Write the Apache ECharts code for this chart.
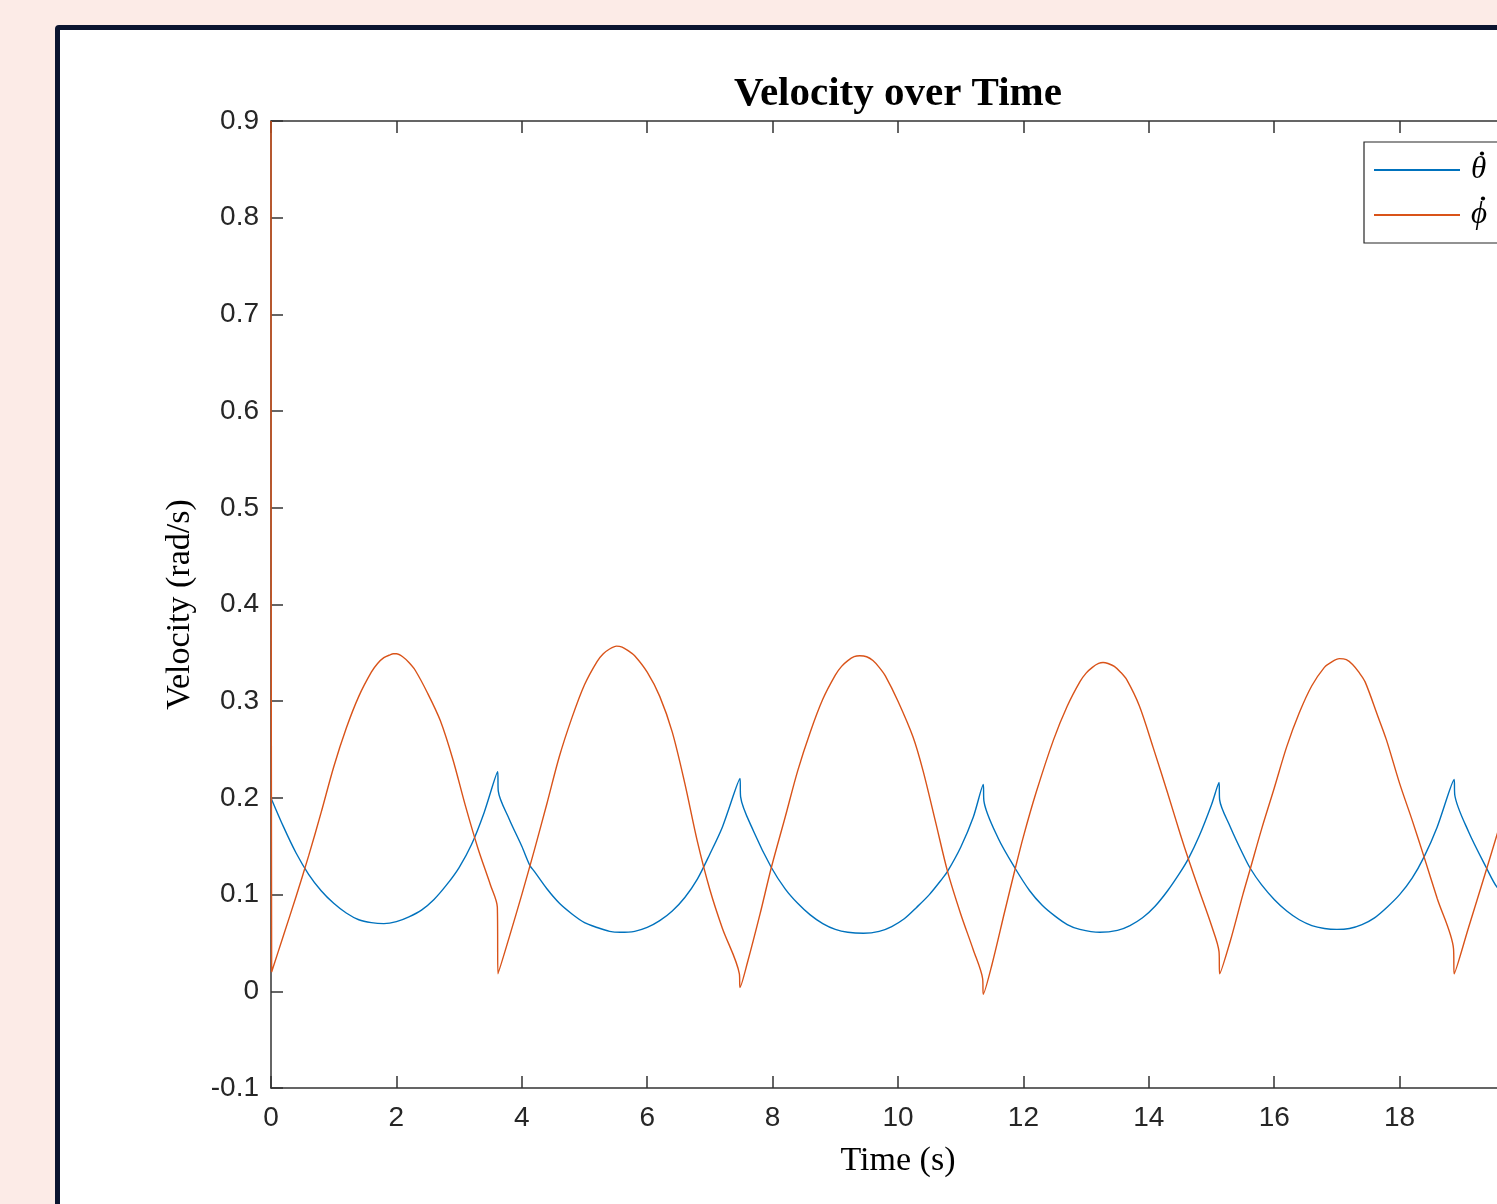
<!DOCTYPE html>
<html>
<head>
<meta charset="utf-8">
<script src="https://cdn.jsdelivr.net/npm/echarts@6/dist/echarts.min.js"></script>
<style>
  html, body { margin: 0; padding: 0; width: 1497px; height: 1204px; overflow: hidden; background: #fcebe7; }
  #frame { position: absolute; left: 55px; top: 25px; width: 1700px; height: 1400px; border: 5px solid #0b1530; border-radius: 4px; background: #ffffff; box-sizing: border-box; }
  #chart { position: absolute; left: 0; top: 0; width: 1700px; height: 1204px; }
</style>
</head>
<body>
<div id="frame"></div>
<div id="chart"></div>
<script>
// ---- data ----
const seriesNames = ['\u03B8', '\u03D5'];   // drawn with a dot above (time derivatives)

const thetaTime = [
  0, 0.2, 0.4, 0.6, 0.8, 1.0, 1.2, 1.4, 1.6, 1.8, 2.0, 2.2, 2.4, 2.6, 2.8, 3.0, 3.2, 3.4, 3.615, 3.625,
  3.8, 4.0, 4.13, 4.2, 4.4, 4.6, 4.8, 5.0, 5.2, 5.4, 5.57, 5.8, 6.0, 6.2, 6.4, 6.6, 6.8, 7.0, 7.2, 7.48, 7.49,
  7.7, 7.98, 8.2, 8.4, 8.6, 8.8, 9.0, 9.2, 9.45, 9.7, 9.9, 10.1, 10.3, 10.5, 10.7, 10.79, 11.0, 11.2, 11.36, 11.37,
  11.6, 11.87, 12.1, 12.3, 12.5, 12.7, 12.9, 13.22, 13.5, 13.7, 13.9, 14.1, 14.3, 14.5, 14.63, 14.8, 15.0, 15.12, 15.13,
  15.3, 15.5, 15.62, 15.8, 16.0, 16.2, 16.4, 16.6, 16.8, 17.0, 17.2, 17.4, 17.6, 17.8, 18.0, 18.2, 18.39, 18.6, 18.87, 18.88,
  19.1, 19.39, 19.55, 19.8, 20.0
];
const thetaDot = [
  0.200, 0.170, 0.143, 0.121, 0.104, 0.091, 0.081, 0.074, 0.071, 0.070, 0.072, 0.077, 0.084, 0.095, 0.110, 0.128, 0.152, 0.185, 0.227, 0.207,
  0.178, 0.150, 0.130, 0.124, 0.106, 0.091, 0.080, 0.071, 0.066, 0.062, 0.061, 0.062, 0.066, 0.073, 0.083, 0.097, 0.116, 0.142, 0.170, 0.220, 0.201,
  0.165, 0.128, 0.106, 0.091, 0.079, 0.070, 0.064, 0.061, 0.060, 0.062, 0.067, 0.075, 0.087, 0.100, 0.116, 0.124, 0.149, 0.180, 0.214, 0.197,
  0.158, 0.127, 0.104, 0.089, 0.078, 0.069, 0.064, 0.061, 0.063, 0.068, 0.076, 0.088, 0.104, 0.123, 0.137, 0.160, 0.193, 0.216, 0.198,
  0.170, 0.142, 0.127, 0.110, 0.095, 0.083, 0.074, 0.068, 0.065, 0.064, 0.065, 0.069, 0.076, 0.087, 0.100, 0.117, 0.139, 0.170, 0.219, 0.203,
  0.165, 0.127, 0.108, 0.090, 0.080
];

const phiTime = [
  0, 0.01, 0.2, 0.4, 0.6, 0.8, 1.0, 1.2, 1.4, 1.6, 1.7, 1.8, 1.9, 1.95, 2.0, 2.1, 2.2, 2.3, 2.5, 2.7, 2.9, 3.1, 3.3, 3.5, 3.61, 3.62,
  3.8, 4.0, 4.2, 4.4, 4.6, 4.8, 5.0, 5.2, 5.3, 5.4, 5.51, 5.6, 5.7, 5.8, 6.0, 6.2, 6.4, 6.6, 6.8, 7.0, 7.2, 7.47, 7.48,
  7.6, 7.8, 7.98, 8.2, 8.4, 8.6, 8.8, 9.0, 9.1, 9.2, 9.3, 9.39, 9.5, 9.6, 9.7, 9.8, 10.0, 10.24, 10.4, 10.6, 10.79, 11.0, 11.2, 11.35, 11.36,
  11.5, 11.7, 11.87, 12.0, 12.2, 12.48, 12.7, 12.9, 13.0, 13.1, 13.2, 13.27, 13.35, 13.45, 13.55, 13.65, 13.85, 14.07, 14.3, 14.5, 14.63, 14.8, 15.0, 15.12, 15.13,
  15.3, 15.5, 15.62, 15.8, 16.0, 16.2, 16.4, 16.6, 16.8, 16.9, 17.04, 17.15, 17.25, 17.35, 17.45, 17.65, 17.79, 18.0, 18.2, 18.39, 18.6, 18.86, 18.87,
  19.1, 19.39, 19.6, 19.8, 20.0
];
const phiDot = [
  0.900, 0.020, 0.058, 0.098, 0.140, 0.185, 0.232, 0.272, 0.305, 0.330, 0.339, 0.345, 0.348, 0.349, 0.349, 0.346, 0.340, 0.332, 0.308, 0.280, 0.240, 0.192, 0.148, 0.110, 0.087, 0.018,
  0.056, 0.100, 0.146, 0.194, 0.243, 0.283, 0.317, 0.341, 0.349, 0.354, 0.357, 0.356, 0.352, 0.347, 0.330, 0.305, 0.268, 0.215, 0.155, 0.105, 0.065, 0.018, 0.004,
  0.030, 0.080, 0.128, 0.180, 0.228, 0.268, 0.302, 0.327, 0.336, 0.342, 0.346, 0.347, 0.346, 0.342, 0.335, 0.326, 0.300, 0.263, 0.228, 0.175, 0.124, 0.080, 0.043, 0.013, -0.003,
  0.028, 0.082, 0.127, 0.160, 0.205, 0.260, 0.295, 0.320, 0.329, 0.335, 0.339, 0.340, 0.339, 0.336, 0.330, 0.322, 0.295, 0.252, 0.205, 0.163, 0.137, 0.105, 0.068, 0.041, 0.018,
  0.052, 0.100, 0.127, 0.168, 0.210, 0.253, 0.288, 0.316, 0.335, 0.340, 0.344, 0.343, 0.338, 0.330, 0.320, 0.285, 0.260, 0.215, 0.177, 0.139, 0.096, 0.044, 0.018,
  0.066, 0.127, 0.172, 0.215, 0.255
];

const xTicks = { min: 0, max: 20, interval: 2 };
const yTicks = { min: -0.1, max: 0.9, interval: 0.1 };

// ---- build chart ----
const zip = (ts, vs) => ts.map((t, i) => [t, vs[i]]);
const axisColor = '#333333';
const tickFont = { fontFamily: '"Liberation Sans", Arial, Helvetica, sans-serif', fontSize: 28, color: '#262626' };
const serifLabel = { fontFamily: '"Liberation Serif", "Times New Roman", serif', fontSize: 34, color: '#000' };

const chart = echarts.init(document.getElementById('chart'), null, { renderer: 'canvas' });
const baseX = {
  type: 'value', min: xTicks.min, max: xTicks.max, interval: xTicks.interval,
  axisLine: { show: true, onZero: false, lineStyle: { color: axisColor, width: 1.5 } },
  axisTick: { show: true, inside: true, length: 12, lineStyle: { color: axisColor, width: 1.5 } },
  splitLine: { show: false }
};
const baseY = {
  type: 'value', min: yTicks.min, max: yTicks.max, interval: yTicks.interval,
  axisLine: { show: true, onZero: false, lineStyle: { color: axisColor, width: 1.5 } },
  axisTick: { show: true, inside: true, length: 12, lineStyle: { color: axisColor, width: 1.5 } },
  splitLine: { show: false }
};

chart.setOption({
  animation: false,
  backgroundColor: 'transparent',
  title: {
    text: 'Velocity over Time',
    left: 898, top: 74, textAlign: 'center', padding: 0,
    textStyle: { fontFamily: '"Liberation Serif", "Times New Roman", serif', fontWeight: 'bold', fontSize: 41, color: '#000' }
  },
  grid: { left: 271, top: 121, width: 1254, height: 967, containLabel: false },
  legend: {
    orient: 'vertical',
    left: 1364, top: 142,
    padding: [11, 40, 11, 10],
    itemGap: 11,
    itemWidth: 86, itemHeight: 2,
    icon: 'rect',
    borderColor: '#262626', borderWidth: 1.2,
    backgroundColor: '#fff',
    textStyle: { fontFamily: '"Liberation Serif", "DejaVu Serif", serif', fontStyle: 'italic', fontSize: 31, color: '#000', padding: [0, 0, 0, 6], lineHeight: 34 },
    data: seriesNames
  },
  graphic: [
    { type: 'circle', z: 100, shape: { cx: 1482, cy: 153.5, r: 2.1 }, style: { fill: '#000' } },
    { type: 'circle', z: 100, shape: { cx: 1483, cy: 198.5, r: 2.1 }, style: { fill: '#000' } }
  ],
  xAxis: [
    Object.assign({}, baseX, {
      position: 'bottom',
      name: 'Time (s)', nameLocation: 'middle', nameGap: 56, nameTextStyle: serifLabel,
      axisLabel: Object.assign({ margin: 16, formatter: v => String(Math.round(v * 10) / 10) }, tickFont)
    }),
    Object.assign({}, baseX, { position: 'top', axisLabel: { show: false } })
  ],
  yAxis: [
    Object.assign({}, baseY, {
      position: 'left',
      name: 'Velocity (rad/s)', nameLocation: 'middle', nameGap: 74, nameRotate: 90, nameTextStyle: serifLabel,
      axisLabel: Object.assign({ margin: 12, formatter: v => String(Math.round(v * 10) / 10) }, tickFont)
    }),
    Object.assign({}, baseY, { position: 'right', axisLabel: { show: false } })
  ],
  series: [
    {
      name: seriesNames[0], type: 'line', xAxisIndex: 0, yAxisIndex: 0,
      data: zip(thetaTime, thetaDot), showSymbol: false, symbol: 'none',
      smooth: 0.3,
      lineStyle: { color: '#0072BD', width: 1.4 }, itemStyle: { color: '#0072BD' }, z: 3
    },
    {
      name: seriesNames[1], type: 'line', xAxisIndex: 0, yAxisIndex: 0,
      data: zip(phiTime, phiDot), showSymbol: false, symbol: 'none',
      smooth: 0.3,
      lineStyle: { color: '#D95319', width: 1.4 }, itemStyle: { color: '#D95319' }, z: 3
    }
  ]
});
</script>
</body>
</html>
